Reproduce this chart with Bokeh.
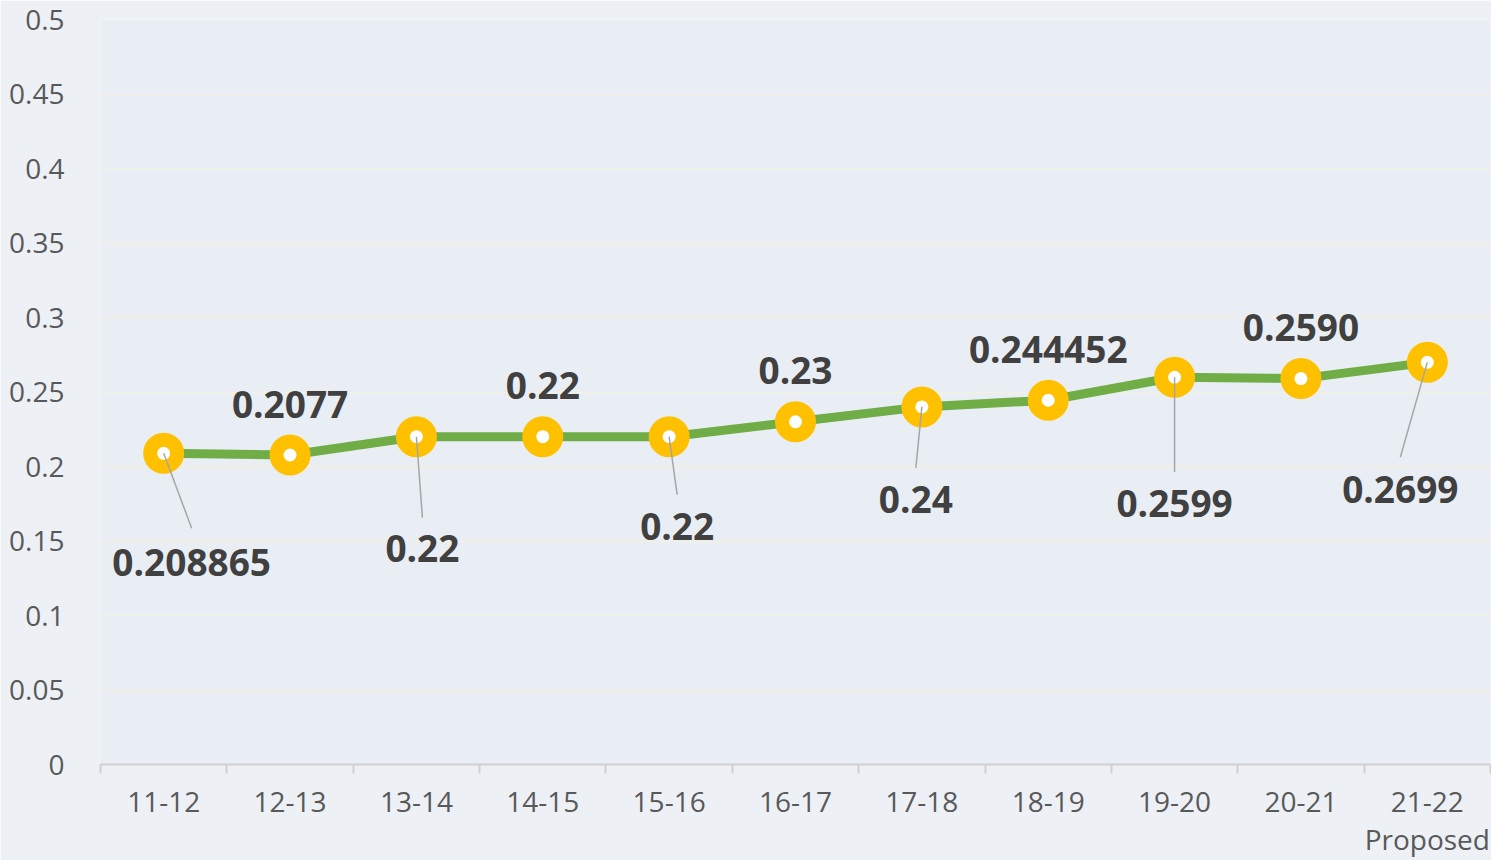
from bokeh.plotting import figure
from bokeh.models import FixedTicker, Range1d, ColumnDataSource
from bokeh.core.properties import value
from bokeh.embed import file_html
from bokeh.resources import INLINE

# ---- data ----
categories = ["11-12", "12-13", "13-14", "14-15", "15-16", "16-17",
              "17-18", "18-19", "19-20", "20-21", "21-22"]
tick_labels = ["11-12", "12-13", "13-14", "14-15", "15-16", "16-17",
               "17-18", "18-19", "19-20", "20-21", "21-22\nProposed"]
values = [0.208865, 0.2077, 0.22, 0.22, 0.22, 0.23,
          0.24, 0.244452, 0.2599, 0.2590, 0.2699]
value_labels = ["0.208865", "0.2077", "0.22", "0.22", "0.22", "0.23",
                "0.24", "0.244452", "0.2599", "0.2590", "0.2699"]
y_ticks = [0, 0.05, 0.1, 0.15, 0.2, 0.25, 0.3, 0.35, 0.4, 0.45, 0.5]
y_tick_labels = ["0", "0.05", "0.1", "0.15", "0.2", "0.25", "0.3",
                 "0.35", "0.4", "0.45", "0.5"]

# ---- layout / style (pixel offsets for data labels) ----
label_dx_px = [28, 0, 6, 0, 8, 0, -6, 0, 0, 0, -27]
label_dy_px = [109, -51, 112, -51, 90, -51, 93, -51, 126, -51, 127]  # + = down
has_leader = [True, False, True, False, True, False, True, False, True, False, True]
leader_end_px = [75, 0, 81, 0, 58, 0, 61, 0, 95, 0, 95]  # leader length downward

W, H = 1491, 860
BL, BR, BT, BB = 100, 1, 19, 95
frame_w = W - BL - BR
frame_h = H - BT - BB
n = len(categories)
px_per_x = frame_w / n
px_per_y = frame_h / 0.5

xs = [i + 0.5 for i in range(n)]

p = figure(width=W, height=H, output_backend="svg", toolbar_location=None,
           x_range=Range1d(0, n), y_range=Range1d(0, 0.5),
           min_border_left=BL, min_border_right=BR, min_border_top=BT,
           min_border_bottom=BB)
p.background_fill_color = "#e9eef4"
p.border_fill_color = "#edf1f6"
p.outline_line_color = None

# axes
p.xaxis.ticker = FixedTicker(ticks=xs, minor_ticks=list(range(n + 1)))
p.xaxis.major_label_overrides = {x: lab for x, lab in zip(xs, tick_labels)}
p.xaxis.major_tick_line_color = None
p.xaxis.major_tick_out = 0
p.xaxis.minor_tick_line_color = "#d0d0d0"
p.xaxis.minor_tick_line_width = 2
p.xaxis.minor_tick_out = 9
p.xaxis.minor_tick_in = 0
p.xaxis.axis_line_color = "#d0d0d0"
p.xaxis.axis_line_width = 2
p.xaxis.major_label_text_font = "Open Sans"
p.xaxis.major_label_text_font_size = "28px"
p.xaxis.major_label_text_color = "#595959"
p.xaxis.major_label_standoff = 8
p.xaxis.major_label_text_line_height = 1.0

p.yaxis.ticker = FixedTicker(ticks=y_ticks)
p.yaxis.major_label_overrides = {t: l for t, l in zip(y_ticks, y_tick_labels)}
p.yaxis.axis_line_color = None
p.yaxis.major_tick_line_color = None
p.yaxis.minor_tick_line_color = None
p.yaxis.major_label_text_font = "Open Sans"
p.yaxis.major_label_text_font_size = "28px"
p.yaxis.major_label_text_color = "#595959"
p.yaxis.major_label_standoff = 30

p.xgrid.grid_line_color = None
p.ygrid.ticker = FixedTicker(ticks=y_ticks[1:])
p.ygrid.grid_line_color = "#f4f0e2"
p.ygrid.grid_line_width = 1.5

src = ColumnDataSource(dict(x=xs, y=values, cat=categories))
p.line("x", "y", source=src, line_color="#70ad47", line_width=9)
p.scatter("x", "y", source=src, size=27, fill_color="white",
          line_color="#ffc000", line_width=14)

# leader lines
x0, y0, x1, y1 = [], [], [], []
for i in range(n):
    if has_leader[i]:
        x0.append(xs[i]); y0.append(values[i])
        x1.append(xs[i] + label_dx_px[i] / px_per_x)
        y1.append(values[i] - leader_end_px[i] / px_per_y)
p.segment(x0, y0, x1, y1, line_color="#a6a6a6", line_width=1.5)

lx = [xs[i] + label_dx_px[i] / px_per_x for i in range(n)]
ly = [values[i] - label_dy_px[i] / px_per_y for i in range(n)]
p.text(lx, ly, text=value_labels, text_align="center", text_baseline="middle",
       text_font=value("Open Sans"), text_font_style="bold",
       text_font_size="37px", text_color="#404040")

open("out.html", "w").write(file_html(p, INLINE))
